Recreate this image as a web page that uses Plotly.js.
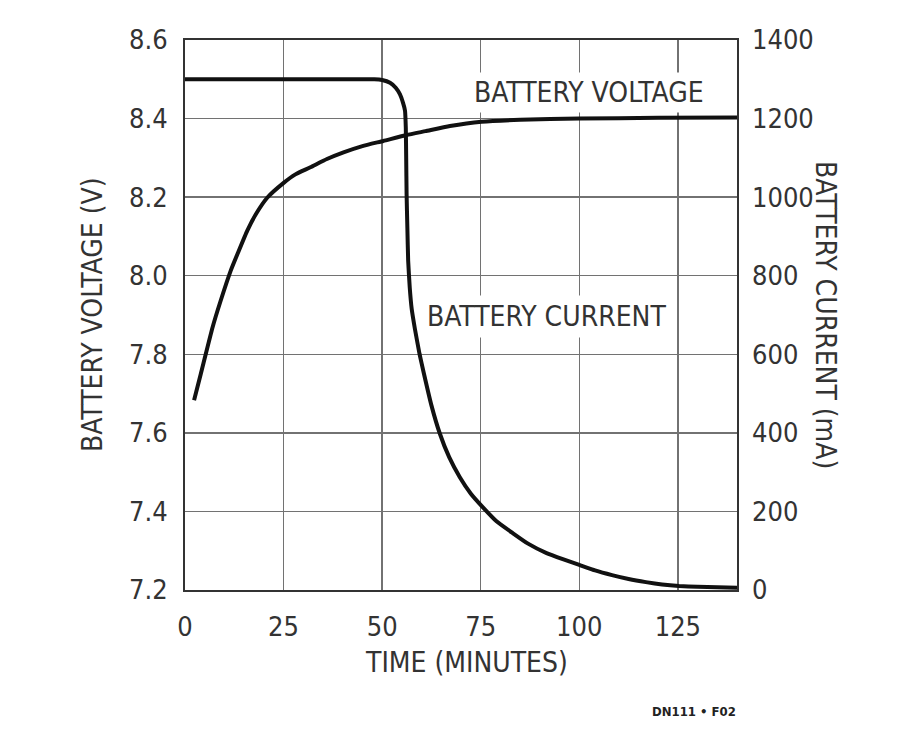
<!DOCTYPE html>
<html>
<head>
<meta charset="utf-8">
<script src="https://cdn.plot.ly/plotly-3.0.1.min.js"></script>
<style>
  html, body { margin: 0; padding: 0; background: #ffffff; }
  #chart { width: 900px; height: 731px; }
</style>
</head>
<body>
<div id="chart"></div>
<script>
// Battery voltage (V) vs time (minutes)
const voltageTime = [2.3, 4, 7, 9, 11.6, 13.5, 15.8, 18, 20.9, 25.1, 28, 31.8, 36, 40.2, 45, 50.3, 56.2, 61, 67.2, 75.2, 85, 100, 120, 140];
const voltageValues = [7.683, 7.75, 7.869, 7.935, 8.013, 8.06, 8.115, 8.157, 8.199, 8.237, 8.258, 8.276, 8.297, 8.314, 8.330, 8.343, 8.358, 8.368, 8.381, 8.392, 8.397, 8.400, 8.402, 8.403];

// Battery current (mA) vs time (minutes)
const currentTime = [0, 10, 20, 30, 40, 48, 50, 52, 53.5, 54.5, 55.3, 55.8, 56.0, 56.1, 56.2, 56.4, 56.6, 57.0, 57.5, 58.3, 59.5, 60.5, 62.5, 64.6, 67, 69.7, 72.5, 75.5, 79, 83.1, 87, 91.7, 96, 100, 104, 108.3, 112.5, 116.9, 121, 125.3, 130, 135, 140];
const currentValues = [1300, 1300, 1300, 1300, 1300, 1300, 1298, 1291, 1278, 1262, 1240, 1220, 1177, 1100, 1008, 920, 838, 770, 715, 665, 600, 555, 470, 399, 338, 287, 245, 211, 175, 145, 118, 94, 78, 64, 50, 38, 28, 20, 14, 10, 8, 7, 6];

const timeTicks = [0, 25, 50, 75, 100, 125];
const voltageTicks = [7.2, 7.4, 7.6, 7.8, 8.0, 8.2, 8.4, 8.6];
const currentTicks = [0, 200, 400, 600, 800, 1000, 1200, 1400];

const FONT = '"Liberation Sans Narrow", "Arial Narrow", "DejaVu Sans Condensed", "Liberation Sans", Arial, sans-serif';
const TXT = '#333333';
const GRID = '#727272';

const traces = [
  {
    x: voltageTime, y: voltageValues, type: 'scatter', mode: 'lines',
    line: { color: '#111111', width: 4, shape: 'spline', smoothing: 0.5 },
    xaxis: 'x', yaxis: 'y', hoverinfo: 'skip', showlegend: false
  },
  {
    x: currentTime, y: currentValues, type: 'scatter', mode: 'lines',
    line: { color: '#111111', width: 4, shape: 'spline', smoothing: 0.4 },
    xaxis: 'x', yaxis: 'y2', hoverinfo: 'skip', showlegend: false
  }
];

const layout = {
  width: 900, height: 731,
  margin: { l: 185, r: 163, t: 40, b: 141 },
  paper_bgcolor: '#ffffff', plot_bgcolor: '#ffffff',
  font: { family: FONT, size: 27, color: TXT },
  showlegend: false,
  xaxis: {
    range: [0, 140], tickvals: timeTicks, ticktext: timeTicks.map(String),
    showgrid: true, gridcolor: GRID, gridwidth: 1.5,
    zeroline: false, showline: true, linecolor: '#333333', linewidth: 2, mirror: true,
    ticks: '', ticklabelstandoff: 12,
    tickfont: { family: FONT, size: 27, color: TXT },
    fixedrange: true
  },
  yaxis: {
    range: [7.2, 8.6], tickvals: voltageTicks, ticktext: voltageTicks.map(v => v.toFixed(1)),
    showgrid: true, gridcolor: GRID, gridwidth: 1.5,
    zeroline: false, showline: true, linecolor: '#333333', linewidth: 2, mirror: true,
    ticks: '', ticklabelstandoff: 10,
    tickfont: { family: FONT, size: 27, color: TXT },
    fixedrange: true
  },
  yaxis2: {
    range: [0, 1400], tickvals: currentTicks, ticktext: currentTicks.map(String),
    overlaying: 'y', side: 'right', showgrid: false, zeroline: false,
    showline: false, ticks: '', ticklabelstandoff: 14,
    tickfont: { family: FONT, size: 27, color: TXT },
    fixedrange: true
  },
  annotations: [
    { text: 'BATTERY VOLTAGE', x: 102.5, y: 8.466, xref: 'x', yref: 'y',
      xanchor: 'center', yanchor: 'middle',
      showarrow: false, bgcolor: '#ffffff', borderpad: 3,
      font: { family: FONT, size: 28, color: TXT } },
    { text: 'BATTERY CURRENT', x: 91.8, y: 7.896, xref: 'x', yref: 'y',
      xanchor: 'center', yanchor: 'middle',
      showarrow: false, bgcolor: '#ffffff', borderpad: 4,
      font: { family: FONT, size: 28, color: TXT } },
    { text: 'TIME (MINUTES)', x: 466, y: 662, xref: 'paper', yref: 'paper',
      xanchor: 'center', yanchor: 'middle',
      showarrow: false, font: { family: FONT, size: 28, color: TXT } },
    { text: 'BATTERY VOLTAGE (V)', x: 92, y: 315, xref: 'paper', yref: 'paper',
      xanchor: 'center', yanchor: 'middle',
      showarrow: false, textangle: -90, font: { family: FONT, size: 28, color: TXT } },
    { text: 'BATTERY CURRENT (mA)', x: 826, y: 315, xref: 'paper', yref: 'paper',
      xanchor: 'center', yanchor: 'middle',
      showarrow: false, textangle: 90, font: { family: FONT, size: 28, color: TXT } },
    { text: '<b>DN111 • F02</b>', x: 694, y: 711, xref: 'paper', yref: 'paper',
      xanchor: 'center', yanchor: 'middle',
      showarrow: false, font: { family: FONT, size: 13, color: '#222222' } }
  ]
};

// convert pixel positions of paper annotations into paper fractions
(function () {
  const pw = layout.width - layout.margin.l - layout.margin.r;
  const ph = layout.height - layout.margin.t - layout.margin.b;
  layout.annotations.forEach(a => {
    if (a.xref === 'paper') a.x = (a.x - layout.margin.l) / pw;
    if (a.yref === 'paper') a.y = (layout.height - layout.margin.b - a.y) / ph;
  });
})();

Plotly.newPlot('chart', traces, layout, { staticPlot: true, displayModeBar: false });
</script>
</body>
</html>
